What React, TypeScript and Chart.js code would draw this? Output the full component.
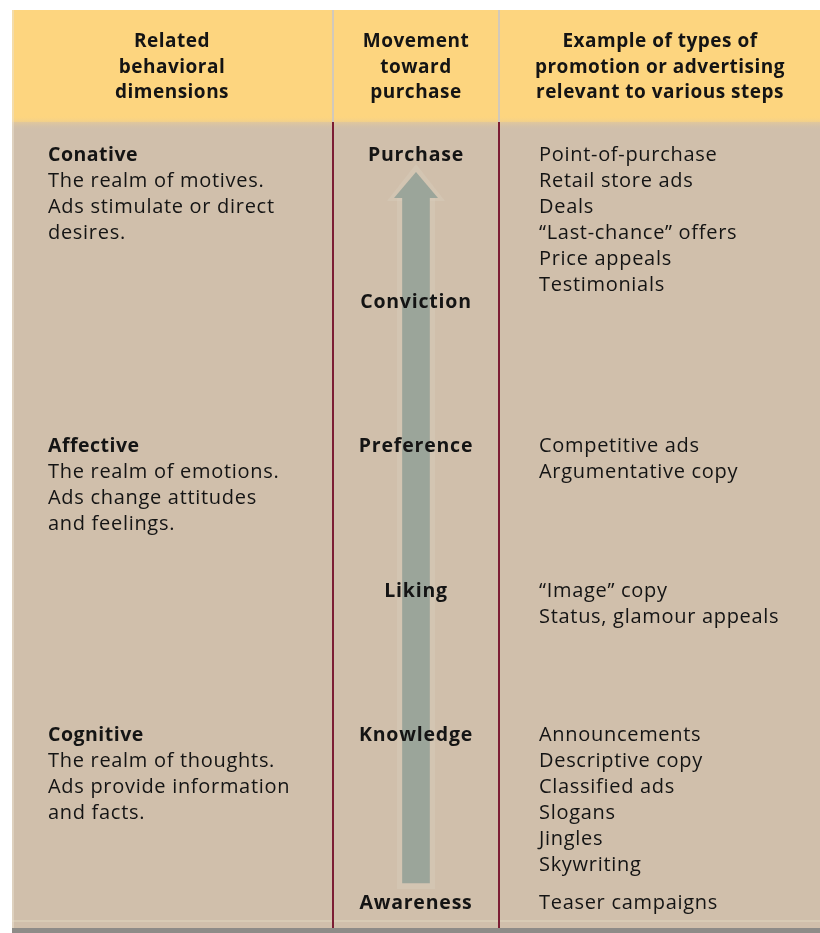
import React, { useEffect, useRef } from 'react';
import { Chart, registerables } from 'chart.js';

Chart.register(...registerables);

const W = 820;
const H = 933;

// Header texts of the three columns
const headerCol1 = ['Related', 'behavioral', 'dimensions'];
const headerCol2 = ['Movement', 'toward', 'purchase'];
const headerCol3 = ['Example of types of', 'promotion or advertising', 'relevant to various steps'];

// Left column: behavioural dimensions
const dimensionTitles = ['Conative', 'Affective', 'Cognitive'];
const dimensionLines = [
  ['The realm of motives.', 'Ads stimulate or direct', 'desires.'],
  ['The realm of emotions.', 'Ads change attitudes', 'and feelings.'],
  ['The realm of thoughts.', 'Ads provide information', 'and facts.'],
];
const dimensionStage = [0, 2, 4];

// Middle column: steps toward purchase (top to bottom) and their vertical level
const stages = ['Purchase', 'Conviction', 'Preference', 'Liking', 'Knowledge', 'Awareness'];
const stageLevel = [155, 302, 446, 591, 735, 903];

// Right column: examples per step
const examples = [
  ['Point-of-purchase', 'Retail store ads', 'Deals', '\u201CLast-chance\u201D offers', 'Price appeals', 'Testimonials'],
  [],
  ['Competitive ads', 'Argumentative copy'],
  ['\u201CImage\u201D copy', 'Status, glamour appeals'],
  ['Announcements', 'Descriptive copy', 'Classified ads', 'Slogans', 'Jingles', 'Skywriting'],
  ['Teaser campaigns'],
];

// Arrow (from Awareness up to Purchase)
const arrowBottom = [883];
const arrowHeadBase = [198];
const arrowTip = [172];

const FONT = '"Open Sans", "Noto Sans", sans-serif';

export default function App() {
  const ref = useRef<HTMLCanvasElement | null>(null);

  useEffect(() => {
    const canvas = ref.current;
    if (!canvas) return;

    const colEdges = [12, 333, 499, 820];
    const headerTop = 10;
    const headerBottom = 122;
    const bodyBottom = 928;
    const linePitch = 26;
    const headerRows = [42, 68, 93];
    const colCenters = [172, 416, 660];
    const leftX = 48;
    const midX = 416;
    const rightX = 539;

    const setSpacing = (ctx: any, v: string) => {
      if ('letterSpacing' in ctx) ctx.letterSpacing = v;
    };

    const plugin = {
      id: 'diagram',
      beforeDatasetsDraw(chart: any) {
        const { ctx } = chart;
        const x = chart.scales.x;
        const y = chart.scales.y;
        const px = (v: number) => x.getPixelForValue(v);
        const py = (v: number) => y.getPixelForValue(v);
        const left = px(colEdges[0]);
        const wid = px(colEdges[3]) - left;
        ctx.save();
        ctx.fillStyle = '#ffffff';
        ctx.fillRect(0, 0, W, H);
        // header
        ctx.fillStyle = '#fdd57f';
        ctx.fillRect(left, py(headerTop), wid, py(headerBottom) - py(headerTop));
        // body
        ctx.fillStyle = '#d0bfab';
        ctx.fillRect(left, py(headerBottom), wid, py(bodyBottom) - py(headerBottom));
        // soft transition header/body
        const g = ctx.createLinearGradient(0, py(headerBottom - 6), 0, py(headerBottom + 8));
        g.addColorStop(0, 'rgba(253,213,127,0)');
        g.addColorStop(0.4, 'rgba(236,205,145,0.7)');
        g.addColorStop(1, 'rgba(208,191,171,0)');
        ctx.fillStyle = g;
        ctx.fillRect(left, py(headerBottom - 6), wid, 14);
        // bottom light line and gray strip
        ctx.fillStyle = 'rgba(222,212,188,0.6)';
        ctx.fillRect(left, py(bodyBottom - 8), wid, 2);
        ctx.fillStyle = '#8e8c88';
        ctx.fillRect(left, py(bodyBottom), wid, py(H) - py(bodyBottom));
        // left edge shade
        ctx.fillStyle = 'rgba(235,228,212,0.5)';
        ctx.fillRect(left, py(headerTop), 2, py(bodyBottom) - py(headerTop));
        // dividers
        for (const e of [colEdges[1], colEdges[2]]) {
          ctx.fillStyle = '#d2c9bb';
          ctx.fillRect(px(e) - 1, py(headerTop), 2, py(headerBottom) - py(headerTop));
          ctx.fillStyle = '#7c1d34';
          ctx.fillRect(px(e) - 1, py(headerBottom), 2, py(bodyBottom) - py(headerBottom));
        }
        // faint arrow halo
        const cx = px(midX);
        ctx.fillStyle = 'rgba(216,204,186,0.45)';
        ctx.fillRect(cx - 19, py(arrowHeadBase[0]) - 2, 38, py(arrowBottom[0]) - py(arrowHeadBase[0]) + 8);
        ctx.beginPath();
        ctx.moveTo(cx, py(arrowTip[0]) - 8);
        ctx.lineTo(cx - 29, py(arrowHeadBase[0]) + 3);
        ctx.lineTo(cx + 29, py(arrowHeadBase[0]) + 3);
        ctx.closePath();
        ctx.fill();
        ctx.restore();
      },
      afterDatasetsDraw(chart: any) {
        const { ctx } = chart;
        const x = chart.scales.x;
        const y = chart.scales.y;
        const px = (v: number) => x.getPixelForValue(v);
        const py = (v: number) => y.getPixelForValue(v);
        ctx.save();
        // arrow head
        ctx.fillStyle = '#9ba59a';
        ctx.beginPath();
        ctx.moveTo(px(midX), py(arrowTip[0]));
        ctx.lineTo(px(midX) - 22, py(arrowHeadBase[0]));
        ctx.lineTo(px(midX) + 22, py(arrowHeadBase[0]));
        ctx.closePath();
        ctx.fill();

        ctx.fillStyle = '#141414';
        ctx.textBaseline = 'middle';
        const headFont = `bold 19px ${FONT}`;
        const bold = `bold 19.5px ${FONT}`;
        const reg = `20px ${FONT}`;
        // headers
        ctx.font = headFont;
        setSpacing(ctx, '0.5px');
        ctx.textAlign = 'center';
        [headerCol1, headerCol2, headerCol3].forEach((col, ci) => {
          col.forEach((t, ri) => ctx.fillText(t, px(colCenters[ci]), py(headerRows[ri])));
        });
        // stages
        ctx.font = bold;
        setSpacing(ctx, '0.8px');
        stages.forEach((s, i) => ctx.fillText(s, px(midX), py(stageLevel[i])));
        // left column
        ctx.textAlign = 'left';
        dimensionTitles.forEach((t, i) => {
          const y0 = stageLevel[dimensionStage[i]];
          ctx.font = bold;
          setSpacing(ctx, '0.5px');
          ctx.fillText(t, px(leftX), py(y0));
          ctx.font = reg;
          setSpacing(ctx, '0.7px');
          dimensionLines[i].forEach((l, li) => ctx.fillText(l, px(leftX), py(y0 + (li + 1) * linePitch)));
        });
        // right column
        ctx.font = reg;
        setSpacing(ctx, '0.7px');
        examples.forEach((list, i) => {
          list.forEach((l, li) => ctx.fillText(l, px(rightX), py(stageLevel[i] + li * linePitch)));
        });
        ctx.restore();
      },
    };

    const chart = new Chart(canvas, {
      type: 'scatter',
      data: {
        datasets: [
          {
            type: 'bar',
            label: 'arrow',
            data: [{ x: midX, y: [arrowBottom[0], arrowHeadBase[0]] }] as any,
            backgroundColor: '#9ba59a',
            borderWidth: 0,
            barThickness: 27,
          } as any,
        ],
      },
      options: {
        animation: false,
        responsive: false,
        maintainAspectRatio: false,
        events: [],
        layout: { padding: 0 },
        plugins: { legend: { display: false }, tooltip: { enabled: false } },
        scales: {
          x: { type: 'linear', min: 0, max: W, display: false, offset: false },
          y: { type: 'linear', min: 0, max: H, reverse: true, display: false, offset: false },
        },
      },
      plugins: [plugin],
    });
    return () => chart.destroy();
  }, []);

  return (
    <div style={{ position: 'absolute', left: 0, top: 0, width: W, height: H }}>
      <canvas ref={ref} width={W} height={H} style={{ display: 'block' }} />
    </div>
  );
}
